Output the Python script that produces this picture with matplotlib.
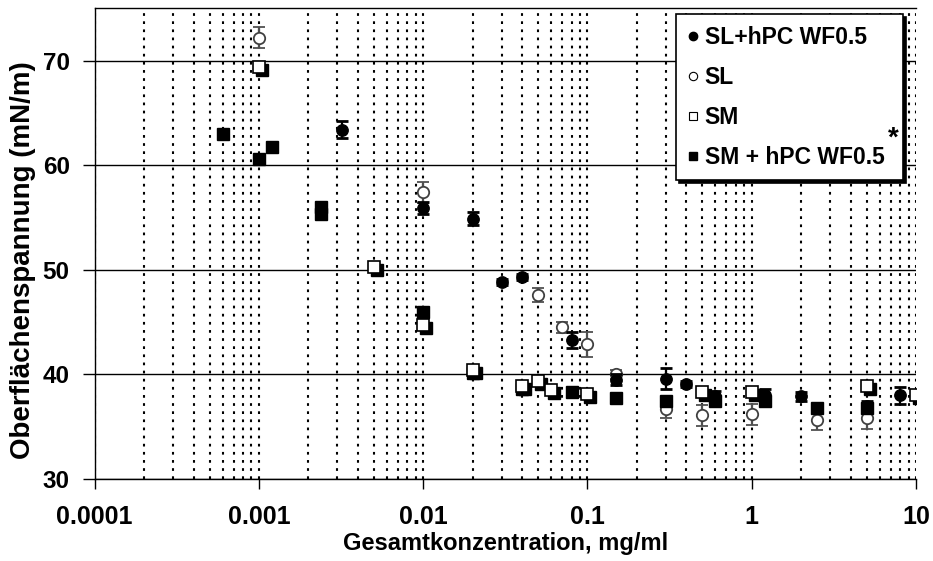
import matplotlib
matplotlib.use("Agg")
import matplotlib.pyplot as plt
import matplotlib.transforms as mtransforms
from matplotlib.lines import Line2D
from matplotlib.ticker import FixedLocator, FixedFormatter, LogLocator, NullFormatter

plt.rcParams['font.family'] = ['Liberation Sans', 'DejaVu Sans']
plt.rcParams['font.weight'] = 'bold'

# ---- data ----
x_sl_hpc = [0.0032, 0.01, 0.02, 0.03, 0.04, 0.08, 0.15, 0.3, 0.4, 0.6, 1.2, 2, 5, 8]
y_sl_hpc = [63.4, 55.9, 54.9, 48.8, 49.3, 43.3, 39.5, 39.6, 39.1, 37.9, 38.0, 37.9, 37.0, 38.0]
e_sl_hpc = [0.8, 0.6, 0.6, 0.3, 0.3, 0.8, 0.5, 1.0, 0.3, 0.5, 0.6, 0.4, 0.5, 0.8]

x_sl = [0.001, 0.01, 0.05, 0.07, 0.1, 0.15, 0.3, 0.5, 1, 2.5, 5]
y_sl = [72.2, 57.4, 47.6, 44.5, 42.9, 40.0, 36.7, 36.1, 36.2, 35.6, 35.8]
e_sl = [1.0, 1.0, 0.7, 0.5, 1.2, 0.4, 0.9, 1.0, 1.0, 0.9, 1.0]

x_sm = [0.001, 0.005, 0.01, 0.02, 0.04, 0.05, 0.06, 0.1, 0.5, 1, 5, 10]
y_sm = [69.4, 50.3, 44.7, 40.4, 38.9, 39.4, 38.5, 38.1, 38.3, 38.3, 38.9, 38.0]

x_sm_hpc = [0.0006, 0.001, 0.0012, 0.0024, 0.0024, 0.01, 0.02, 0.04, 0.08, 0.15, 0.3, 0.6, 1.2, 2.5, 5]
y_sm_hpc = [63.0, 60.6, 61.7, 56.0, 55.3, 46.0, 40.1, 38.6, 38.3, 37.7, 37.5, 37.5, 37.5, 36.8, 36.8]

series_labels = ["SL+hPC WF0.5", "SL", "SM", "SM + hPC WF0.5"]
xtick_values = [0.0001, 0.001, 0.01, 0.1, 1, 10]
xtick_labels = ["0.0001", "0.001", "0.01", "0.1", "1", "10"]
ytick_values = [30, 40, 50, 60, 70]
x_label = "Gesamtkonzentration, mg/ml"
y_label = "Oberflächenspannung (mN/m)"

fig = plt.figure(figsize=(9.33, 5.61), dpi=100)
ax = fig.add_axes([0.1015, 0.1462, 0.8803, 0.8390])
ax.set_xscale('log')
ax.set_xlim(0.0001, 10)
ax.set_ylim(30, 75)

# grid
ax.xaxis.set_major_locator(FixedLocator(xtick_values))
ax.xaxis.set_major_formatter(FixedFormatter(xtick_labels))
ax.xaxis.set_minor_locator(LogLocator(base=10, subs=range(2, 10), numticks=20))
ax.xaxis.set_minor_formatter(NullFormatter())
ax.set_yticks(ytick_values)
ax.grid(True, which='both', axis='x', color='black', linestyle=(0, (1.3, 2.6)), linewidth=1.5)
ax.grid(True, which='major', axis='y', color='black', linestyle='-', linewidth=1.0)
ax.set_axisbelow(True)

ax.tick_params(axis='x', which='major', direction='out', length=7, width=1, pad=11.5, labelsize=18)
ax.tick_params(axis='x', which='minor', length=0)
ax.tick_params(axis='y', which='major', direction='out', length=9, width=1, pad=9, labelsize=17.5)
for lab in ax.get_xticklabels() + ax.get_yticklabels():
    lab.set_fontweight('bold')

for s in ['left', 'bottom', 'top']:
    ax.spines[s].set_linewidth(1.0)
ax.spines['right'].set_visible(False)

ax.set_xlabel(x_label, fontsize=17, fontweight='bold', labelpad=2.5)
ax.set_ylabel(y_label, fontsize=20, fontweight='bold')
ax.yaxis.set_label_coords(-0.072, 0.465)

ms = 8.2
# SL (open circles, grey error bars)
ax.errorbar(x_sl, y_sl, yerr=e_sl, fmt='o', mfc='white', mec='#404040', mew=1.3,
            ms=ms, ecolor='#505050', elinewidth=1.6, capsize=4, capthick=2, zorder=3)
# SL + hPC (filled circles)
ax.errorbar(x_sl_hpc, y_sl_hpc, yerr=e_sl_hpc, fmt='o', mfc='black', mec='black',
            ms=ms, ecolor='black', elinewidth=1.6, capsize=4, capthick=2, zorder=4)
# SM + hPC (filled squares)
ax.plot(x_sm_hpc, y_sm_hpc, 's', mfc='black', mec='black', ms=ms, zorder=5, linestyle='none')
# SM (open squares with shadow)
shadow = mtransforms.offset_copy(ax.transData, fig=fig, x=3, y=-3, units='dots')
ax.plot(x_sm, y_sm, 's', mfc='black', mec='black', ms=ms, zorder=6, linestyle='none',
        transform=shadow)
ax.plot(x_sm, y_sm, 's', mfc='white', mec='black', mew=1.2, ms=ms, zorder=7, linestyle='none')

# legend
handles = [
    Line2D([], [], marker='o', ls='none', mfc='black', mec='black', ms=6),
    Line2D([], [], marker='o', ls='none', mfc='white', mec='black', mew=0.8, ms=6),
    Line2D([], [], marker='s', ls='none', mfc='white', mec='black', mew=0.8, ms=6),
    Line2D([], [], marker='s', ls='none', mfc='black', mec='black', ms=6),
]
leg = ax.legend(handles, series_labels, loc='upper left',
                bbox_to_anchor=(0.708, 0.646, 0.276, 0.341), mode='expand',
                prop={'size': 16.5, 'weight': 'bold'}, frameon=True, fancybox=False,
                shadow={'color': 'black', 'alpha': 1.0},
                borderaxespad=0, handlelength=0.45, handletextpad=0.3,
                labelspacing=0.74, borderpad=0.5)
leg.get_frame().set_edgecolor('black')
leg.get_frame().set_linewidth(1.2)
leg.set_zorder(20)
ax.text(0.972, 0.724, "*", transform=ax.transAxes, fontsize=20, fontweight='bold',
        ha='center', va='center', zorder=30)

fig.savefig("out.png", dpi=100)
